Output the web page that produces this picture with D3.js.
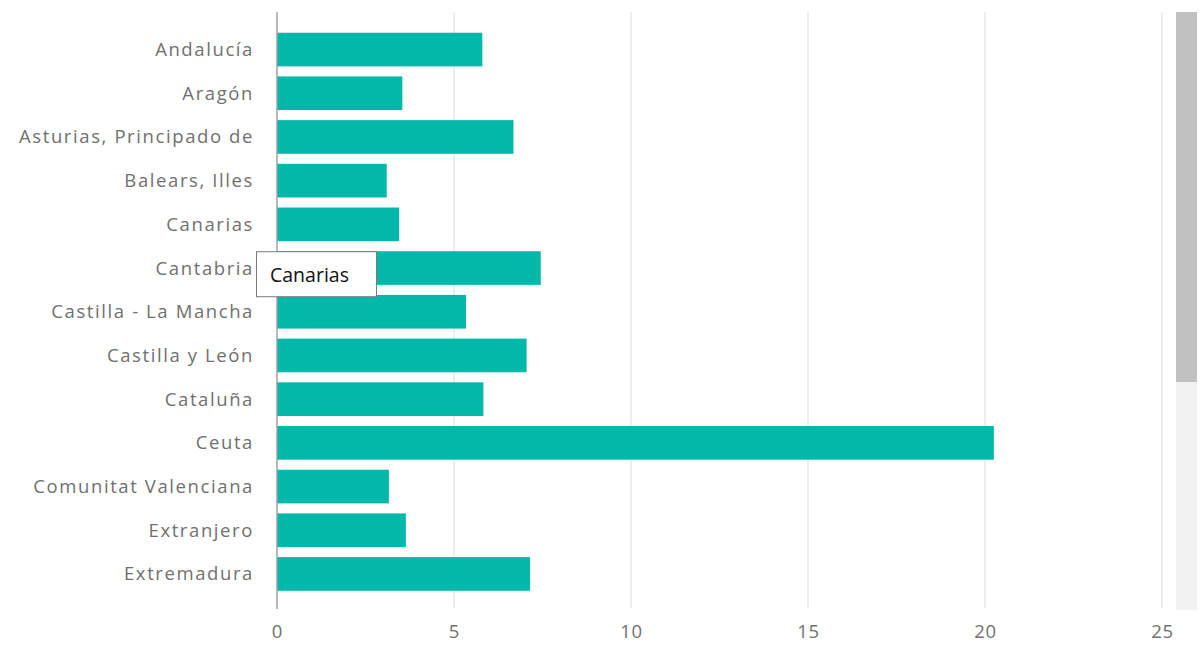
<!DOCTYPE html>
<html>
<head>
<meta charset="utf-8">
<script src="https://cdn.jsdelivr.net/npm/d3@7"></script>
<style>
  body { margin: 0; background: #fff; }
  text { font-family: "Open Sans", "Noto Sans", sans-serif; }
</style>
</head>
<body>
<div id="chart"></div>
<script>
// data
const regions = ["Andalucía", "Aragón", "Asturias, Principado de", "Balears, Illes", "Canarias",
  "Cantabria", "Castilla - La Mancha", "Castilla y León", "Cataluña", "Ceuta",
  "Comunitat Valenciana", "Extranjero", "Extremadura"];
const values = [5.80, 3.54, 6.68, 3.10, 3.45, 7.45, 5.34, 7.05, 5.83, 20.25, 3.16, 3.64, 7.15];
const xTicks = [0, 5, 10, 15, 20, 25];
const tooltipLabel = "Canarias";

const W = 1201, H = 656;
const margin = { top: 12, right: 38, bottom: 48, left: 277 };

const svg = d3.select("#chart").append("svg")
  .attr("width", W)
  .attr("height", H);

const x = d3.scaleLinear()
  .domain([0, 25])
  .range([margin.left, 1162]);

const y = d3.scaleBand()
  .domain(regions)
  .range([27.7, 595.8])
  .paddingInner(0.23)
  .paddingOuter(0.115);

// gridlines
svg.append("g")
  .selectAll("line")
  .data(xTicks.filter(d => d > 0))
  .enter().append("line")
  .attr("x1", d => x(d)).attr("x2", d => x(d))
  .attr("y1", margin.top).attr("y2", 608)
  .attr("stroke", "#e9e9e9")
  .attr("stroke-width", 1.5);

// bars
svg.append("g")
  .selectAll("rect")
  .data(values)
  .enter().append("rect")
  .attr("x", x(0))
  .attr("y", (d, i) => y(regions[i]))
  .attr("width", d => x(d) - x(0))
  .attr("height", y.bandwidth())
  .attr("fill", "#01B8AA");

// zero axis line
svg.append("line")
  .attr("x1", x(0)).attr("x2", x(0))
  .attr("y1", margin.top).attr("y2", 609)
  .attr("stroke", "#a0a0a0")
  .attr("stroke-width", 1.5);

// category labels
svg.append("g")
  .selectAll("text")
  .data(regions)
  .enter().append("text")
  .attr("x", x(0) - 23)
  .attr("y", d => y(d) + y.bandwidth() / 2)
  .attr("dy", "0.35em")
  .attr("text-anchor", "end")
  .attr("fill", "#707070")
  .style("font-size", "18.5px")
  .style("letter-spacing", "1.6px")
  .text(d => d);

// x tick labels
const xAxis = d3.axisBottom(x)
  .tickValues(xTicks)
  .tickSize(0)
  .tickPadding(0);
const gx = svg.append("g")
  .attr("transform", "translate(0," + 625 + ")")
  .call(xAxis);
gx.select(".domain").remove();
gx.selectAll("text")
  .attr("fill", "#707070")
  .style("font-size", "18.5px")
  .style("letter-spacing", "0.8px")
  .style("font-family", "'Open Sans', 'Noto Sans', sans-serif");

// scrollbar
svg.append("rect")
  .attr("x", 1176).attr("y", 12)
  .attr("width", 21).attr("height", 598)
  .attr("fill", "#f2f2f2");
svg.append("rect")
  .attr("x", 1176).attr("y", 12)
  .attr("width", 21).attr("height", 370)
  .attr("fill", "#c1c1c1");

// hover tooltip
const tipY = y("Cantabria");
const tip = svg.append("g")
  .attr("transform", "translate(256," + tipY + ")");
tip.append("rect")
  .attr("x", 0.5).attr("y", 0.5)
  .attr("width", 120).attr("height", 45)
  .attr("fill", "#fff")
  .attr("stroke", "#7a7a7a")
  .attr("stroke-width", 1);
tip.append("text")
  .attr("x", 14)
  .attr("y", 24)
  .attr("dy", "0.35em")
  .attr("fill", "#111")
  .style("font-size", "19.5px")
  .text(tooltipLabel);
</script>
</body>
</html>
